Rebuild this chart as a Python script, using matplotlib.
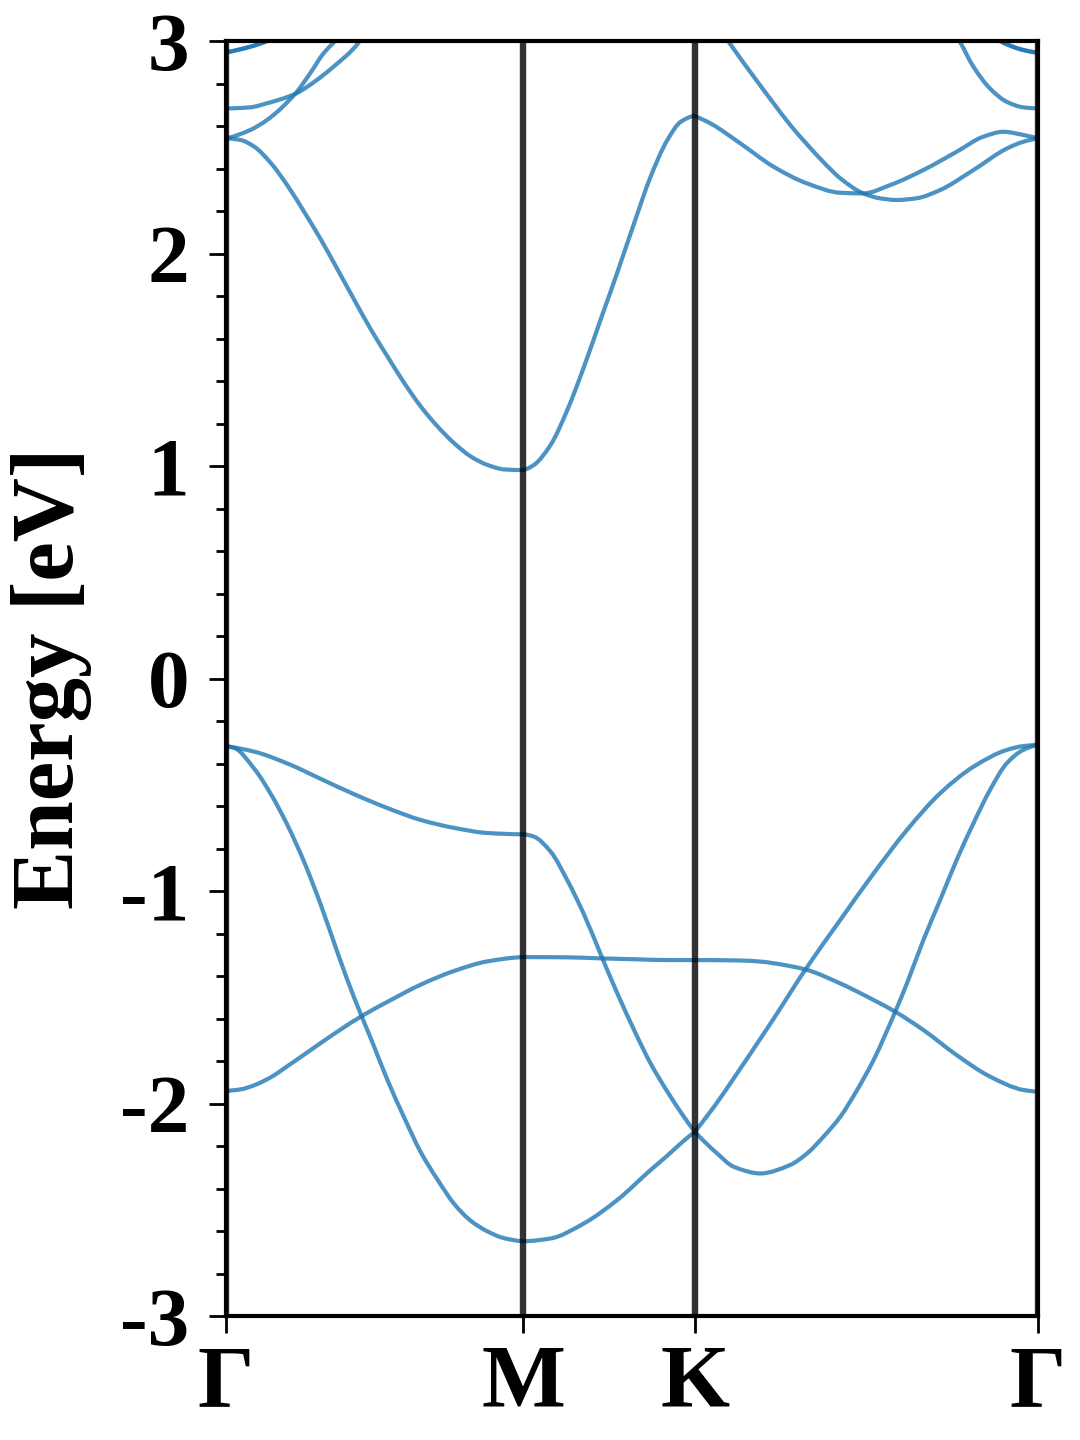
import matplotlib
matplotlib.use("Agg")
import numpy as np
import matplotlib.pyplot as plt
from matplotlib.path import Path
from matplotlib.patches import PathPatch
from matplotlib.ticker import MultipleLocator

plt.rcParams['font.family'] = ['Liberation Serif', 'DejaVu Serif']
plt.rcParams['font.weight'] = 'bold'
plt.rcParams['axes.unicode_minus'] = False

# high-symmetry points along the path (Gamma-M-K-Gamma)
kpoints = [0.0, 0.866, 1.366, 2.366]
klabels = ['Γ', 'M', 'K', 'Γ']

# valence bands
k_v1 = [0, .082, .179, .277, .374, .471, .568, .665, .762, .866,
        .897, .946, .994, 1.043, 1.091, 1.140, 1.189, 1.237, 1.286, 1.334, 1.366,
        1.431, 1.480, 1.557, 1.644, 1.693, 1.741, 1.790, 1.839, 1.887, 1.950,
        1.984, 2.032, 2.081, 2.129, 2.178, 2.226, 2.275, 2.323, 2.366]
e_v1 = [-0.319, -0.344, -0.400, -0.473, -0.545, -0.610, -0.666, -0.703, -0.727, -0.733,
        -0.744, -0.815, -0.948, -1.110, -1.295, -1.481, -1.654, -1.811, -1.944, -2.062, -2.133,
        -2.235, -2.298, -2.329, -2.289, -2.235, -2.156, -2.062, -1.936, -1.795, -1.568,
        -1.435, -1.231, -1.042, -0.854, -0.681, -0.525, -0.399, -0.336, -0.313]

k_v2 = [0, .024, .082, .131, .179, .228, .277, .326, .374, .423, .471, .520, .568,
        .617, .665, .714, .762, .811, .866,
        .946, 1.043, 1.140, 1.237, 1.286, 1.334, 1.366,
        1.431, 1.480, 1.557, 1.596, 1.688, 1.790, 1.887, 1.984, 2.081,
        2.178, 2.275, 2.323, 2.366]
e_v2 = [-0.319, -0.327, -0.424, -0.545, -0.690, -0.865, -1.069, -1.295, -1.505, -1.698,
        -1.892, -2.069, -2.231, -2.360, -2.473, -2.553, -2.602, -2.634, -2.648,
        -2.635, -2.564, -2.454, -2.313, -2.245, -2.175, -2.133,
        -1.995, -1.880, -1.695, -1.600, -1.370, -1.136, -0.917, -0.713, -0.540,
        -0.415, -0.336, -0.318, -0.313]

k_v3 = [0, .044, .082, .131, .179, .247, .326, .398, .471, .568, .665, .762, .866,
        .994, 1.091, 1.189, 1.286, 1.366,
        1.499, 1.557, 1.596, 1.688, 1.790, 1.887, 1.950, 2.032, 2.129, 2.226, 2.323, 2.366]
e_v3 = [-1.940, -1.933, -1.914, -1.876, -1.824, -1.748, -1.660, -1.586, -1.521, -1.440,
        -1.376, -1.331, -1.311,
        -1.312, -1.317, -1.321, -1.325, -1.325,
        -1.327, -1.332, -1.340, -1.369, -1.435, -1.513, -1.568, -1.654, -1.772, -1.873,
        -1.936, -1.944]

# conduction bands
k_c1 = [0, .043, .082, .131, .179, .228, .277, .326, .374, .423, .471, .520, .568,
        .617, .665, .714, .762, .811, .866,
        .897, .946, .994, 1.043, 1.091, 1.140, 1.189, 1.237, 1.286, 1.325, 1.366,
        1.412, 1.499, 1.596, 1.693, 1.790, 1.857, 1.935, 2.032, 2.129, 2.207, 2.265,
        2.323, 2.366]
e_c1 = [2.542, 2.534, 2.503, 2.425, 2.320, 2.195, 2.064, 1.922, 1.781, 1.640, 1.514,
        1.389, 1.279, 1.185, 1.107, 1.044, 1.005, 0.984, 0.981,
        1.005, 1.100, 1.262, 1.467, 1.687, 1.910, 2.142, 2.361, 2.534, 2.620, 2.647,
        2.612, 2.518, 2.408, 2.330, 2.286, 2.283, 2.322, 2.393, 2.479, 2.550, 2.573,
        2.558, 2.542]

k_c2a = [0, .070, .119, .201, .245, .284, .313, .335]
e_c2a = [2.542, 2.581, 2.628, 2.751, 2.848, 2.942, 2.992, 3.03]
k_c2b = [1.446, 1.463, 1.547, 1.596, 1.644, 1.693, 1.741, 1.790, 1.857, 1.905, 1.954,
         2.012, 2.081, 2.178, 2.275, 2.323, 2.366]
e_c2b = [3.04, 3.0, 2.812, 2.706, 2.605, 2.514, 2.430, 2.354, 2.283, 2.260, 2.252,
         2.260, 2.299, 2.393, 2.494, 2.526, 2.542]

k_c3a = [0, .070, .119, .201, .264, .313, .386, .40]
e_c3a = [2.683, 2.688, 2.707, 2.751, 2.816, 2.879, 2.992, 3.03]
k_c3b = [2.121, 2.137, 2.178, 2.226, 2.275, 2.323, 2.366]
e_c3b = [3.04, 3.0, 2.879, 2.777, 2.714, 2.688, 2.683]

# doubly degenerate band near 2.95 eV at Gamma
k_c4a = [0, .070, .119, .14]
e_c4a = [2.947, 2.973, 3.0, 3.02]
k_c4b = [2.236, 2.255, 2.323, 2.366]
e_c4b = [3.02, 3.0, 2.958, 2.945]

bands = [(k_v1, e_v1), (k_v2, e_v2), (k_v3, e_v3), (k_c1, e_c1),
         (k_c2a, e_c2a), (k_c2b, e_c2b), (k_c3a, e_c3a), (k_c3b, e_c3b),
         (k_c4a, e_c4a), (k_c4b, e_c4b), (k_c4a, e_c4a), (k_c4b, e_c4b)]


def pchip_slopes(k, e):
    h = np.diff(k)
    d = np.diff(e) / h
    m = np.zeros_like(e)
    if len(e) == 2:
        m[:] = d[0]
        return h, m
    for i in range(1, len(e) - 1):
        if d[i - 1] * d[i] > 0:
            w1 = 2 * h[i] + h[i - 1]
            w2 = h[i] + 2 * h[i - 1]
            m[i] = (w1 + w2) / (w1 / d[i - 1] + w2 / d[i])
    for j, (h0, h1, d0, d1) in ((0, (h[0], h[1], d[0], d[1])),
                                (-1, (h[-1], h[-2], d[-1], d[-2]))):
        s = ((2 * h0 + h1) * d0 - h0 * d1) / (h0 + h1)
        if np.sign(s) != np.sign(d0):
            s = 0.0
        elif np.sign(d0) != np.sign(d1) and abs(s) > abs(3 * d0):
            s = 3 * d0
        m[j] = s
    return h, m


def smooth_path(k, e):
    # cubic hermite curve through the read points, as bezier segments
    k = np.asarray(k, float)
    e = np.asarray(e, float)
    h, m = pchip_slopes(k, e)
    verts = [(k[0], e[0])]
    codes = [Path.MOVETO]
    for i in range(len(h)):
        verts += [(k[i] + h[i] / 3, e[i] + m[i] * h[i] / 3),
                  (k[i + 1] - h[i] / 3, e[i + 1] - m[i + 1] * h[i] / 3),
                  (k[i + 1], e[i + 1])]
        codes += [Path.CURVE4] * 3
    return Path(verts, codes)


fig = plt.figure(figsize=(10.8, 14.4), dpi=100)
ax = fig.add_axes([0.2093, 0.0861, 0.7518, 0.8854])

for k, e in bands:
    k = np.asarray(k, float)
    e = np.asarray(e, float)
    # one curve per path segment, so kinks at M and K stay kinks
    for lo, hi in zip(kpoints[:-1], kpoints[1:]):
        sel = (k >= lo - 1e-9) & (k <= hi + 1e-9)
        if sel.sum() >= 2:
            ax.add_patch(PathPatch(smooth_path(k[sel], e[sel]), facecolor='none',
                                   edgecolor='#1f77b4', alpha=0.8, lw=3,
                                   capstyle='round'))

for kp in kpoints:
    ax.axvline(kp, color='k', alpha=0.8, lw=4.6)

ax.set_xlim(kpoints[0], kpoints[-1])
ax.set_ylim(-3, 3)
ax.set_xticks(kpoints)
ax.set_xticklabels(klabels)
ax.yaxis.set_major_locator(MultipleLocator(1))
ax.yaxis.set_minor_locator(MultipleLocator(0.2))
ax.tick_params(axis='x', which='major', length=12, width=2, pad=8, labelsize=64)
ax.tick_params(axis='y', which='major', length=12, width=2, pad=14.5, labelsize=60)
ax.tick_params(axis='y', which='minor', length=7, width=2)
for s in ax.spines.values():
    s.set_linewidth(3)
ax.set_ylabel('Energy [eV]', fontsize=64, fontweight='bold', labelpad=20)

fig.savefig('out.png', dpi=100)
